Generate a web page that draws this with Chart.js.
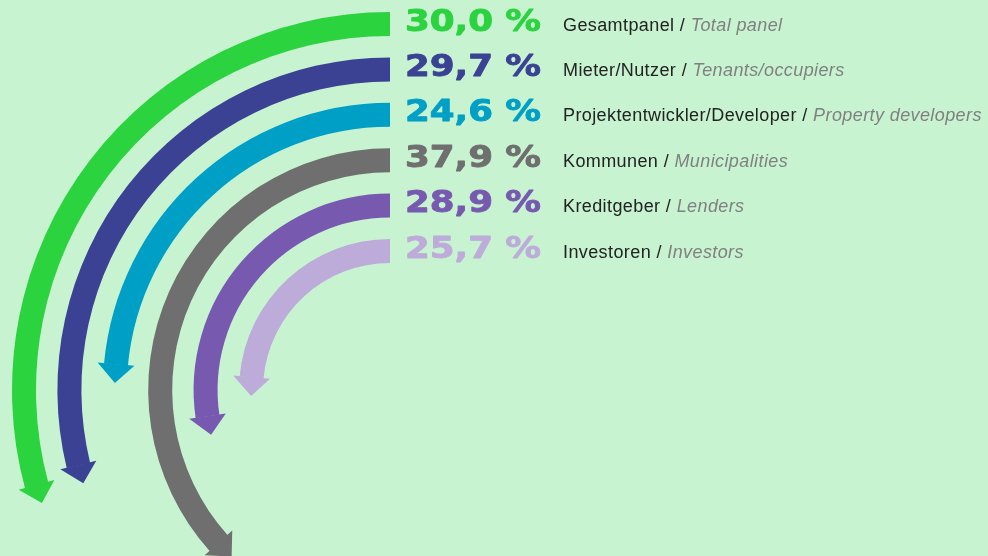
<!DOCTYPE html>
<html lang="de">
<head>
  <meta charset="UTF-8" />
  <title>Gesamtpanel – Anteile</title>
  <style>
    * {
      margin: 0;
      padding: 0;
      box-sizing: border-box;
    }

    body {
      width: 988px;
      height: 556px;
      overflow: hidden;
      background-color: #c8f3d1;
    }

    /* the canvas is taller than the page, the lower arrows run off the bottom */
    .chart-wrap {
      position: absolute;
      left: 0;
      top: 0;
      width: 988px;
      height: 800px;
    }
  </style>
</head>
<body>
  <div class="chart-wrap">
    <canvas id="panelChart"></canvas>
  </div>

  <script src="https://cdn.jsdelivr.net/npm/chart.js"></script>
  <script>
    // ================================
    // Data
    // ================================
    const groups = ['Gesamtpanel', 'Mieter/Nutzer', 'Projektentwickler/Developer', 'Kommunen', 'Kreditgeber', 'Investoren'];
    const groupsEn = ['Total panel', 'Tenants/occupiers', 'Property developers', 'Municipalities', 'Lenders', 'Investors'];
    const shares = [30.0, 29.7, 24.6, 37.9, 28.9, 25.7];

    const ringColors = ['#2bd33f', '#3b4294', '#00a0c6', '#6f6f6f', '#775ab0', '#bdacd9'];

    const RING_WEIGHT = 24;   // band thickness (px, radius is 378)
    const GAP_WEIGHT = 21.4;  // empty space between two bands
    const HEAD_LEN = 19;
    const HEAD_HALF = 18.5;

    // one ring per group, outermost first, with an empty spacer ring between
    const datasets = [];
    shares.forEach((v, i) => {
      if (i > 0) {
        datasets.push({ data: [], weight: GAP_WEIGHT, borderWidth: 0 });
      }
      datasets.push({
        label: groups[i],
        series: i,
        data: [100 - v, v],
        backgroundColor: ['rgba(0,0,0,0)', ringColors[i]],
        borderWidth: 0,
        weight: RING_WEIGHT
      });
    });

    // ================================
    // Arrow heads at the end of each band
    // ================================
    const arrowHeads = {
      id: 'arrowHeads',
      beforeDatasetDraw(chart, args) {
        const ds = chart.data.datasets[args.index];
        if (ds.series === undefined) return;
        const arc = args.meta.data[1];
        const midR = (arc.innerRadius + arc.outerRadius) / 2;
        arc.$tip = arc.startAngle;
        // shorten the band so it stops where the head begins
        arc.startAngle = arc.$tip + (HEAD_LEN - 0.5) / midR;
      },
      afterDatasetDraw(chart, args) {
        const ds = chart.data.datasets[args.index];
        if (ds.series === undefined) return;
        const arc = args.meta.data[1];
        arc.startAngle = arc.$tip;
        const midR = (arc.innerRadius + arc.outerRadius) / 2;
        const tip = arc.$tip;
        const base = tip + HEAD_LEN / midR;
        const ctx = chart.ctx;
        ctx.save();
        ctx.fillStyle = ringColors[ds.series];
        ctx.beginPath();
        ctx.moveTo(arc.x + (midR + HEAD_HALF) * Math.cos(base), arc.y + (midR + HEAD_HALF) * Math.sin(base));
        ctx.lineTo(arc.x + midR * Math.cos(tip), arc.y + midR * Math.sin(tip));
        ctx.lineTo(arc.x + (midR - HEAD_HALF) * Math.cos(base), arc.y + (midR - HEAD_HALF) * Math.sin(base));
        ctx.closePath();
        ctx.fill();
        ctx.restore();
      }
    };

    // ================================
    // Percent values and group names next to the band starts
    // ================================
    const rowLabels = {
      id: 'rowLabels',
      afterDraw(chart) {
        const ctx = chart.ctx;
        chart.data.datasets.forEach((ds, idx) => {
          if (ds.series === undefined) return;
          const i = ds.series;
          const arc = chart.getDatasetMeta(idx).data[1];
          const midR = (arc.innerRadius + arc.outerRadius) / 2;
          const baseline = arc.y - midR + 6.5;

          ctx.save();
          ctx.textBaseline = 'alphabetic';
          ctx.textAlign = 'left';

          // big value, stretched a little and given a thin outline for weight
          const valueText = shares[i].toFixed(1).replace('.', ',') + ' %';
          ctx.font = 'bold 31px "DejaVu Sans"';
          ctx.fillStyle = ringColors[i];
          ctx.strokeStyle = ringColors[i];
          ctx.lineWidth = 0.9;
          ctx.lineJoin = 'round';
          ctx.translate(arc.x + 15, baseline);
          ctx.scale(1.15, 1);
          ctx.fillText(valueText, 0, 0);
          ctx.strokeText(valueText, 0, 0);
          ctx.restore();

          ctx.save();
          ctx.textBaseline = 'alphabetic';
          ctx.textAlign = 'left';
          ctx.letterSpacing = '0.4px';
          let x = arc.x + 173;
          const de = groups[i] + ' / ';
          ctx.font = '18px "Liberation Sans", Arial, sans-serif';
          ctx.fillStyle = '#222222';
          ctx.fillText(de, x, baseline);
          x += ctx.measureText(de).width;
          ctx.font = 'italic 18px "Liberation Sans", Arial, sans-serif';
          ctx.fillStyle = '#808080';
          ctx.fillText(groupsEn[i], x, baseline);
          ctx.restore();
        });
      }
    };

    const ctx = document.getElementById('panelChart').getContext('2d');
    const panelChart = new Chart(ctx, {
      type: 'doughnut',
      data: {
        labels: ['', 'Anteil'],
        datasets: datasets
      },
      options: {
        responsive: true,
        maintainAspectRatio: false,
        animation: false,
        cutout: (127 / 378 * 100) + '%',
        rotation: 0,
        circumference: 360,
        layout: {
          padding: { left: 12, top: 12, right: 220, bottom: 32 }
        },
        plugins: {
          legend: { display: false },
          tooltip: { enabled: false }
        },
        events: []
      },
      plugins: [arrowHeads, rowLabels]
    });
  </script>
</body>
</html>
